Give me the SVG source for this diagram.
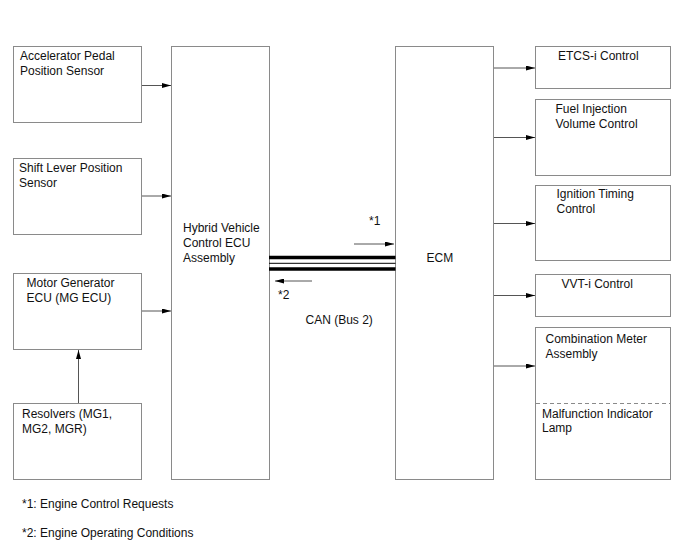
<svg xmlns="http://www.w3.org/2000/svg" width="688" height="560" viewBox="0 0 688 560">
<style>
.box{fill:#fff;stroke:#8a8a8a;stroke-width:1}
.t{font-family:"Liberation Sans",Arial,sans-serif;font-size:12px;fill:#111}
.c{stroke:#555;stroke-width:1;fill:none}
.bus{stroke:#000;fill:none}
</style>
<defs>
<marker id="ah" viewBox="0 0 9 5" refX="9" refY="2.5" markerWidth="9" markerHeight="5" markerUnits="userSpaceOnUse" orient="auto">
<path d="M0,0 L9,2.5 L0,5 Z" fill="#000"/>
</marker>
</defs>
<rect width="688" height="560" fill="#fff"/>
<g id="accel"><rect class="box" x="13.5" y="46.5" width="128" height="76"/><text class="t" x="20" y="60">Accelerator Pedal</text><text class="t" x="20" y="75">Position Sensor</text></g>
<g id="shift"><rect class="box" x="13.5" y="158.5" width="128" height="76"/><text class="t" x="19" y="172">Shift Lever Position</text><text class="t" x="19" y="187">Sensor</text></g>
<g id="mgecu"><rect class="box" x="13.5" y="273.5" width="128" height="76"/><text class="t" x="26.5" y="287">Motor Generator</text><text class="t" x="26.5" y="302">ECU (MG ECU)</text></g>
<g id="resolvers"><rect class="box" x="13.5" y="403.5" width="128" height="76"/><text class="t" x="22" y="418">Resolvers (MG1,</text><text class="t" x="22" y="433">MG2, MGR)</text></g>
<g id="hv"><rect class="box" x="171.5" y="46.5" width="98" height="433"/><text class="t" x="183" y="232">Hybrid Vehicle</text><text class="t" x="183" y="247">Control ECU</text><text class="t" x="183" y="262">Assembly</text></g>
<g id="ecm"><rect class="box" x="395.5" y="46.5" width="98" height="433"/><text class="t" x="426.5" y="262">ECM</text></g>
<g id="etcs"><rect class="box" x="535.5" y="46.5" width="135" height="42"/><text class="t" x="558" y="60">ETCS-i Control</text></g>
<g id="fuel"><rect class="box" x="535.5" y="99.5" width="135" height="76"/><text class="t" x="555.5" y="113">Fuel Injection</text><text class="t" x="555.5" y="128">Volume Control</text></g>
<g id="ign"><rect class="box" x="535.5" y="185.5" width="135" height="75"/><text class="t" x="556.5" y="198">Ignition Timing</text><text class="t" x="556.5" y="213">Control</text></g>
<g id="vvt"><rect class="box" x="535.5" y="274.5" width="135" height="42"/><text class="t" x="561.5" y="288">VVT-i Control</text></g>
<g id="meter"><rect class="box" x="535.5" y="327.5" width="135" height="152"/><line x1="536" y1="403.5" x2="670" y2="403.5" stroke="#8a8a8a" stroke-dasharray="4,3"/><text class="t" x="545.5" y="343">Combination Meter</text><text class="t" x="545.5" y="358">Assembly</text><text class="t" x="542" y="418">Malfunction Indicator</text><text class="t" x="542" y="432">Lamp</text></g>
<g id="connectors">
<line class="c" x1="142" y1="85.5" x2="171" y2="85.5" marker-end="url(#ah)"/>
<line class="c" x1="142" y1="196" x2="171" y2="196" marker-end="url(#ah)"/>
<line class="c" x1="142" y1="311" x2="171" y2="311" marker-end="url(#ah)"/>
<line class="c" x1="78.5" y1="403" x2="78.5" y2="350" marker-end="url(#ah)"/>
<line class="c" x1="494" y1="68" x2="535" y2="68" marker-end="url(#ah)"/>
<line class="c" x1="494" y1="137.5" x2="535" y2="137.5" marker-end="url(#ah)"/>
<line class="c" x1="494" y1="223.5" x2="535" y2="223.5" marker-end="url(#ah)"/>
<line class="c" x1="494" y1="295.5" x2="535" y2="295.5" marker-end="url(#ah)"/>
<line class="c" x1="494" y1="366" x2="535" y2="366" marker-end="url(#ah)"/>
<line class="bus" x1="269" y1="257.5" x2="395.5" y2="257.5" stroke-width="3.3"/>
<line class="bus" x1="269" y1="263.3" x2="395.5" y2="263.3" stroke-width="1"/>
<line class="bus" x1="269" y1="269" x2="395.5" y2="269" stroke-width="3.3"/>
<line class="c" x1="354" y1="244" x2="394" y2="244" marker-end="url(#ah)"/>
<line class="c" x1="312" y1="281" x2="275" y2="281" marker-end="url(#ah)"/>
</g>
<text class="t" x="369" y="225">*1</text>
<text class="t" x="278" y="299">*2</text>
<text class="t" x="305.5" y="324">CAN (Bus 2)</text>
<text class="t" x="22" y="508">*1: Engine Control Requests</text>
<text class="t" x="22" y="537">*2: Engine Operating Conditions</text>
</svg>
